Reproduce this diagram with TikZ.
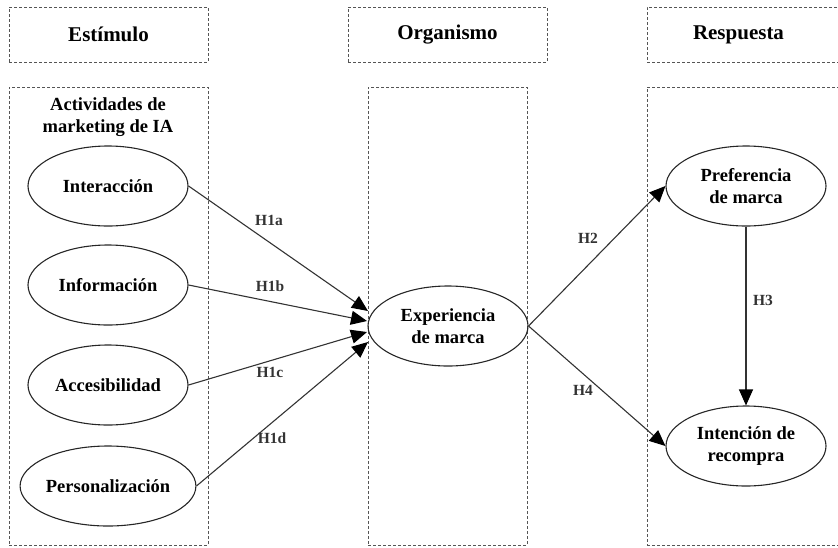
\documentclass[tikz,border=0pt]{standalone}
\usepackage{fontspec}
\setmainfont{Liberation Serif}
\usetikzlibrary{shapes.geometric,arrows.meta}
\definecolor{linegray}{HTML}{333333}
\definecolor{boxgray}{HTML}{555555}
\definecolor{hgray}{HTML}{333333}
\tikzset{
  framebox/.style={draw=boxgray, dash pattern=on 3pt off 2pt, line width=0.8pt,
    rectangle, inner sep=0pt},
  titlebox/.style={framebox, minimum height=55pt, font=\fontsize{21}{24}\selectfont\bfseries},
  construct/.style={ellipse, draw=black!85, line width=1.1pt, minimum width=160pt,
    minimum height=80pt, inner sep=0pt, align=center,
    font=\fontsize{18.5}{21.5}\selectfont\bfseries},
  path/.style={draw=linegray, line width=1.1pt,
    -{Triangle[length=16pt,width=14pt,color=black]}},
  hyp/.style={text=hgray, font=\fontsize{15.5}{17}\selectfont\bfseries, inner sep=1pt}
}
\begin{document}
\begin{tikzpicture}[x=1pt,y=-1pt]
\useasboundingbox (0,0) rectangle (838,547);

% stage headers
\node[titlebox, minimum width=199pt] (hstim) at (108.5,34.5) {Estímulo};
\node[titlebox, minimum width=199pt] (horg) at (447.5,34.5) {Organismo};
\node[titlebox, minimum width=195pt, text width=195pt, align=center]
  (hresp) at (744.5,34.5) {\hspace*{-12pt}Respuesta};

% stage frames
\node[framebox, minimum width=199pt, minimum height=458pt] (fstim) at (108.5,316) {};
\node[framebox, minimum width=159pt, minimum height=458pt] (forg) at (447.5,316) {};
\node[framebox, minimum width=195pt, minimum height=458pt] (fresp) at (744.5,316) {};

\node[align=center, font=\fontsize{18.5}{22}\selectfont\bfseries, inner sep=0pt]
  (actlbl) at (108,117) {Actividades de\\marketing de IA};

% constructs
\node[construct] (inter) at (108,186) {Interacción};
\node[construct] (info)  at (108,285) {Información};
\node[construct] (acces) at (108,385) {Accesibilidad};
\node[construct] (perso) at (108,486) {Personalización};
\node[construct] (exp)   at (448,326) {Experiencia\\de marca};
\node[construct] (pref)  at (746,186) {Preferencia\\de marca};
\node[construct] (inten) at (746,446) {Intención de\\recompra};

% arrow ends gathered on the left side of the mediator
\coordinate (ta) at (368,311);
\coordinate (tb) at (367,321);
\coordinate (tc) at (367,332);
\coordinate (td) at (368,342);

\draw[path] (inter.east) -- (ta);
\draw[path] (info.east)  -- (tb);
\draw[path] (acces.east) -- (tc);
\draw[path] (perso.east) -- (td);
\draw[path] (exp.east) -- (pref.west);
\draw[path] (exp.east) -- (inten.west);
\draw[path] (pref.south) -- (inten.north);

% hypothesis labels
\node[hyp] (h1a) at (269,220) {H1a};
\node[hyp] (h1b) at (270,286) {H1b};
\node[hyp] (h1c) at (270,372) {H1c};
\node[hyp] (h1d) at (272,438) {H1d};
\node[hyp] (h2)  at (588,238) {H2};
\node[hyp] (h3)  at (763,300) {H3};
\node[hyp] (h4)  at (583,390) {H4};
\end{tikzpicture}
\end{document}
